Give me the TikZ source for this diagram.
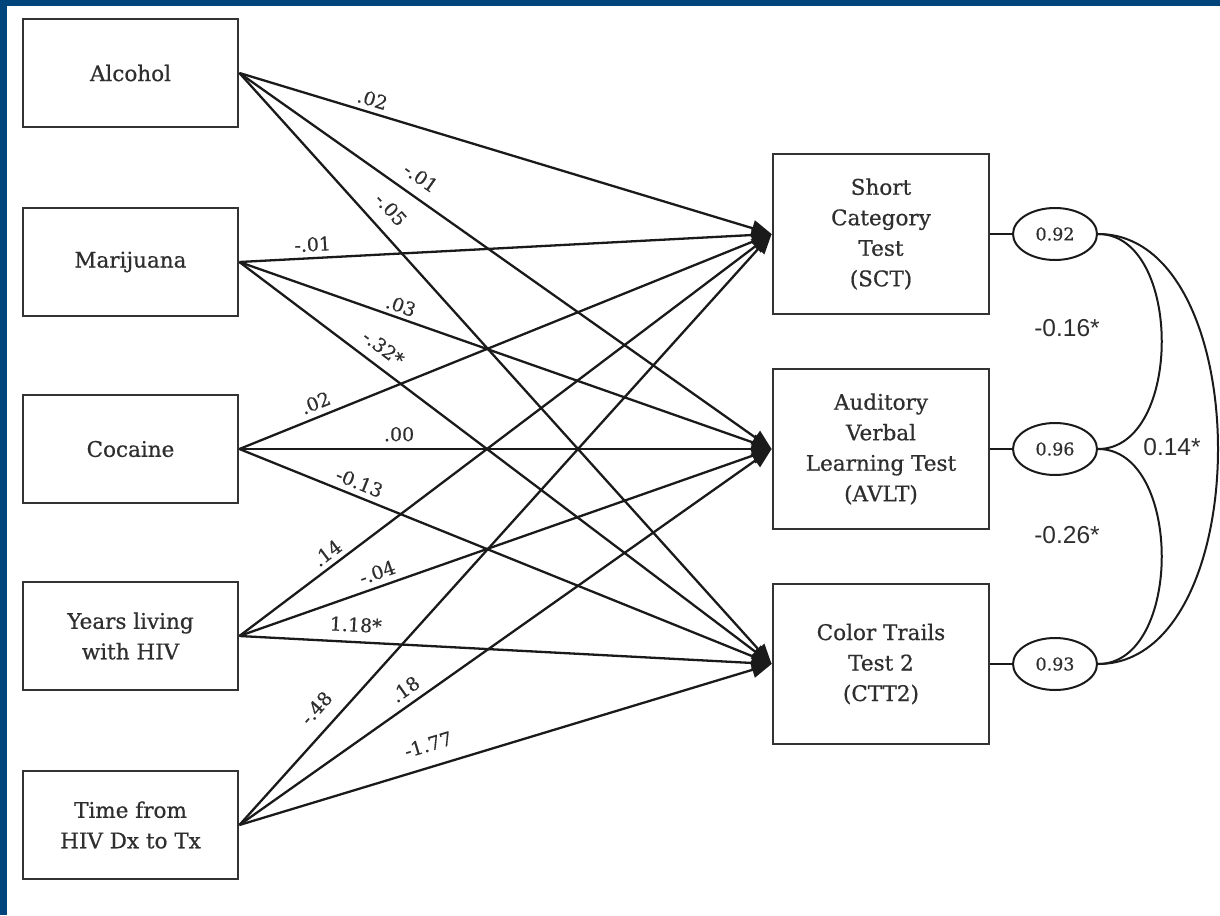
\documentclass[tikz,border=0pt]{standalone}
\usepackage{fontspec}
\setmainfont{DejaVu Serif}
\newfontfamily\boxfont{DejaVu Serif}[FakeBold=0.7]
\newfontfamily\labfont{DejaVu Serif}[FakeBold=0.5]
\newfontfamily\corrfont{Liberation Sans}
\usetikzlibrary{arrows.meta,shapes.geometric}
\definecolor{frameblue}{HTML}{00447C}
\definecolor{ink}{HTML}{1A1A1A}
\definecolor{boxgray}{HTML}{333333}
\definecolor{txtgray}{HTML}{2E2E2E}
\begin{document}
\begin{tikzpicture}[x=1pt,y=-1pt,
  box/.style={draw=boxgray, line width=2.8pt, minimum width=215pt, minimum height=108pt,
              align=center, inner sep=0pt, text=txtgray, font=\boxfont\fontsize{21.5}{30.5}\selectfont},
  tbox/.style={box, minimum width=216pt, minimum height=160pt},
  reg/.style={draw=ink, line width=2.3pt, -{Triangle[length=20pt,width=16pt]}},
  lab/.style={font=\labfont\fontsize{19}{21}\selectfont, sloped, above=#1, inner sep=2pt, text=txtgray},
  err/.style={ellipse, draw=ink, line width=2pt, minimum width=84pt, minimum height=52pt,
              inner sep=0pt, text=txtgray, font=\labfont\fontsize{17.5}{19}\selectfont},
  link/.style={draw=ink, line width=1.8pt},
  cov/.style={draw=ink, line width=2pt},
  corr/.style={text=txtgray, font=\corrfont\fontsize{24.5}{26}\selectfont}]
\useasboundingbox (0,0) rectangle (1220,915);
\fill[frameblue] (0,0) rectangle (1220,6);
\fill[frameblue] (0,0) rectangle (7,915);

% predictors
\node[box] (alc) at (130.5,73) {Alcohol};
\node[box] (mar) at (130.5,262) {Marijuana};
\node[box] (coc) at (130.5,449) {Cocaine};
\node[box] (yrs) at (130.5,636) {Years living\\with HIV};
\node[box] (tim) at (130.5,825) {Time from\\HIV Dx to Tx};

% outcomes
\node[tbox] (sct) at (881,234) {Short\\Category\\Test\\(SCT)};
\node[tbox] (avlt) at (881,449) {Auditory\\Verbal\\Learning Test\\(AVLT)};
\node[tbox] (ctt) at (881,664) {Color Trails\\Test 2\\(CTT2)};

% residuals
\node[err] (e1) at (1055,234) {0.92};
\node[err] (e2) at (1055,449) {0.96};
\node[err] (e3) at (1055,664) {0.93};
\draw[link] (sct.east) -- (e1.west);
\draw[link] (avlt.east) -- (e2.west);
\draw[link] (ctt.east) -- (e3.west);

% paths
\draw[reg] (alc.east) -- node[lab=3pt,pos=0.243]{.02} (sct.west);
\draw[reg] (alc.east) -- node[lab=9pt,pos=0.32]{-.01} (avlt.west);
\draw[reg] (alc.east) -- node[lab=11pt,pos=0.255]{-.05} (ctt.west);

\draw[reg] (mar.east) -- node[lab=3.5pt,pos=0.139]{-.01} (sct.west);
\draw[reg] (mar.east) -- node[lab=2pt,pos=0.296]{.03} (avlt.west);
\draw[reg] (mar.east) -- node[lab=8pt,pos=0.25]{-.32*} (ctt.west);

\draw[reg] (coc.east) -- node[lab=4pt,pos=0.153]{.02} (sct.west);
\draw[reg] (coc.east) -- node[lab=4.5pt,pos=0.30]{.00} (avlt.west);
\draw[reg] (coc.east) -- node[lab=3.5pt,pos=0.216]{-0.13} (ctt.west);

\draw[reg] (yrs.east) -- node[lab=3pt,pos=0.18]{.14} (sct.west);
\draw[reg] (yrs.east) -- node[lab=4pt,pos=0.268]{-.04} (avlt.west);
\draw[reg] (yrs.east) -- node[lab=7pt,pos=0.217]{1.18*} (ctt.west);

\draw[reg] (tim.east) -- node[lab=11pt,pos=0.174]{-.48} (sct.west);
\draw[reg] (tim.east) -- node[lab=5pt,pos=0.328]{.18} (avlt.west);
\draw[reg] (tim.east) -- node[lab=12pt,pos=0.367]{-1.77} (ctt.west);

% covariances
\draw[cov] (e1.east) .. controls +(85,0) and +(85,0) .. (e2.east);
\draw[cov] (e2.east) .. controls +(85,0) and +(85,0) .. (e3.east);
\draw[cov] (e1.east) .. controls +(160,0) and +(160,0) .. (e3.east);
\node[corr] (c1) at (1067,328) {-0.16*};
\node[corr] (c2) at (1172,447) {0.14*};
\node[corr] (c3) at (1067,535) {-0.26*};
\end{tikzpicture}
\end{document}
